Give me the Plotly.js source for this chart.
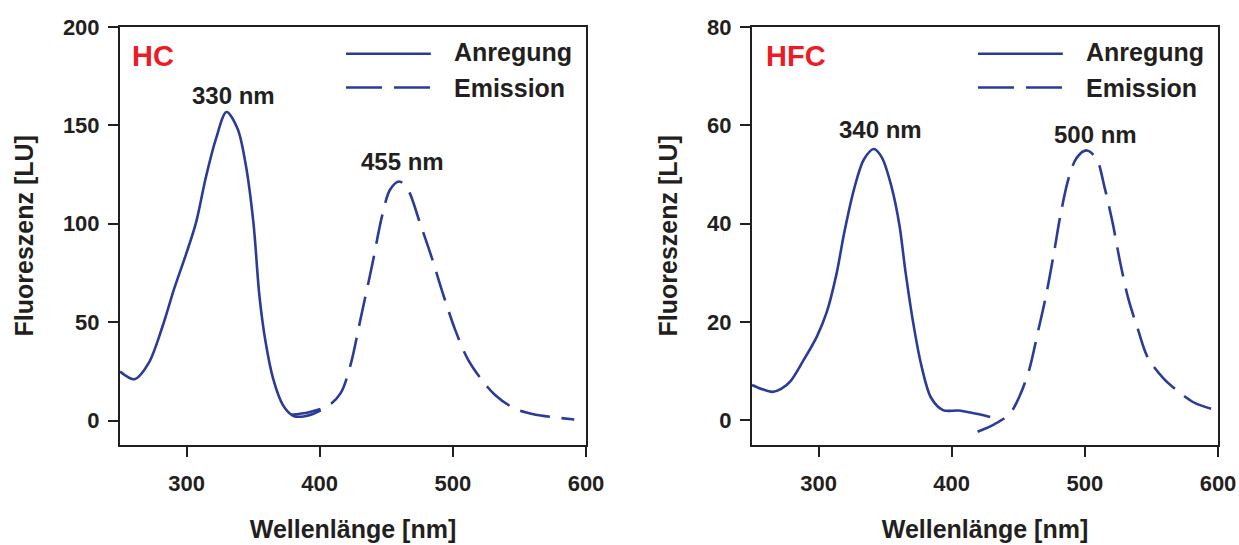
<!DOCTYPE html>
<html>
<head>
<meta charset="utf-8">
<script src="https://cdn.plot.ly/plotly-3.0.1.min.js"></script>
<style>html,body{margin:0;padding:0;background:#fff}#chart{width:1239px;height:545px}</style>
</head>
<body>
<div id="chart"></div>
<script>
// HC (left panel)
const hcExX = [250, 261, 271.4, 281.8, 290.7, 299.7, 307.1, 314.5, 322, 330, 338.3, 344.3, 350.2, 354.7, 359.2, 365.1, 372.5, 380, 385.9, 394.9, 400.8];
const hcExY = [24.9, 21.0, 29, 47.5, 67, 84.7, 100.6, 123.6, 143, 156.8, 148.3, 130.6, 100.6, 63.5, 40.5, 21.0, 7.7, 2.4, 1.9, 3.3, 5.1];
const hcEmX = [378.5, 391.9, 406.8, 415.7, 423.1, 430.5, 439.5, 446.9, 452.9, 459.7, 466.2, 475.2, 484.1, 493, 501.9, 510.9, 521.3, 531.7, 546.5, 561.4, 576.3, 591.2];
const hcEmY = [2.9, 4.2, 7.7, 13.9, 28.1, 51.1, 79.4, 104.1, 117.4, 121.5, 117.4, 100.6, 82.9, 63.5, 45.8, 31.6, 21.0, 13.0, 6.0, 3.0, 1.6, 0.5];
// HFC (right panel)
const hfcExX = [250, 257.1, 265.4, 271.9, 279.3, 288.2, 298.6, 306, 313.4, 319.3, 326.7, 334.1, 341.5, 347.5, 354.9, 360.8, 365.2, 371.1, 377.1, 384.5, 393.4, 405.2, 414.1, 428.9];
const hfcExY = [7.2, 6.4, 5.8, 6.4, 8.1, 12.0, 17.0, 21.9, 29.7, 38.2, 47.1, 53.1, 55.2, 53.5, 47.4, 39.6, 30.4, 19.8, 11.3, 4.6, 2.1, 2.0, 1.6, 0.7];
const hfcEmX = [419.4, 431.9, 443.7, 451.1, 458.5, 464.5, 470.4, 476.3, 482.2, 488.2, 494.1, 501.5, 508.9, 514.8, 520.7, 526.7, 532.6, 540, 547.4, 559.2, 571.1, 582.9, 600];
const hfcEmY = [-2.3, -0.8, 1.4, 5.0, 10.6, 17.7, 24.8, 33.3, 42.5, 49.6, 53.5, 54.9, 53.1, 47.4, 40.4, 31.9, 24.8, 18.4, 12.7, 8.5, 5.7, 3.5, 2.0];

const seriesNames = ['Anregung', 'Emission'];
const panelLabels = ['HC', 'HFC'];
const peakLabels = [
  {text: '330 nm', x: 334.9, y: 165, ax: 'x', ay: 'y'},
  {text: '455 nm', x: 461.9, y: 131.8, ax: 'x', ay: 'y'},
  {text: '340 nm', x: 346.5, y: 59.1, ax: 'x2', ay: 'y2'},
  {text: '500 nm', x: 508.3, y: 58.2, ax: 'x2', ay: 'y2'}
];

const BLUE = '#2b3c98';
const INK = '#231f20';
const RED = '#ed1c24';
const FONT = 'Liberation Sans, Arial, Helvetica, sans-serif';

function line(x, y, xa, ya, dash, name) {
  return {x: x, y: y, xaxis: xa, yaxis: ya, type: 'scatter', mode: 'lines', name: name,
    line: {color: BLUE, width: 2.6, shape: 'spline', smoothing: 0.9, dash: dash}, hoverinfo: 'skip'};
}

const data = [
  line(hcExX, hcExY, 'x', 'y', 'solid', seriesNames[0]),
  line(hcEmX, hcEmY, 'x', 'y', '30px,12px', seriesNames[1]),
  line(hfcExX, hfcExY, 'x2', 'y2', 'solid', seriesNames[0]),
  line(hfcEmX, hfcEmY, 'x2', 'y2', '30px,12px', seriesNames[1])
];

const yTop = 1 - 27 / 545, yBot = 1 - 444.5 / 545;

function xaxisDef(dom, anchor) {
  return {domain: dom, anchor: anchor, range: [250, 600], tick0: 0, dtick: 100,
    ticks: 'outside', ticklen: 10, tickwidth: 2, tickcolor: INK,
    showline: true, linewidth: 2, linecolor: INK, mirror: true,
    showgrid: false, zeroline: false, ticklabelstandoff: 8,
    tickfont: {family: FONT, size: 22, weight: 'bold', color: INK},
    title: {text: 'Wellenlänge [nm]', standoff: 26, font: {family: FONT, size: 25, weight: 'bold', color: INK}}};
}
function yaxisDef(range, dtick, anchor) {
  return {domain: [yBot, yTop], anchor: anchor, range: range, tick0: 0, dtick: dtick,
    ticks: 'outside', ticklen: 10, tickwidth: 2, tickcolor: INK,
    showline: true, linewidth: 2, linecolor: INK, mirror: true,
    showgrid: false, zeroline: false, ticklabelstandoff: 4,
    tickfont: {family: FONT, size: 22, weight: 'bold', color: INK},
    title: {text: 'Fluoreszenz [LU]', standoff: 22, font: {family: FONT, size: 25, weight: 'bold', color: INK}}};
}

const annotations = [];
const shapes = [];
[['x', 'y'], ['x2', 'y2']].forEach(function (ax, i) {
  annotations.push({xref: ax[0] + ' domain', yref: ax[1] + ' domain', x: i === 0 ? 0.022 : 0.026, y: 0.93,
    xanchor: 'left', yanchor: 'middle', text: panelLabels[i], showarrow: false,
    font: {family: FONT, size: 29, weight: 'bold', color: RED}});
  annotations.push({xref: ax[0] + ' domain', yref: ax[1] + ' domain', x: 0.712, y: 0.94,
    xanchor: 'left', yanchor: 'middle', text: seriesNames[0], showarrow: false,
    font: {family: FONT, size: 25, weight: 'bold', color: INK}});
  annotations.push({xref: ax[0] + ' domain', yref: ax[1] + ' domain', x: 0.712, y: 0.855,
    xanchor: 'left', yanchor: 'middle', text: seriesNames[1], showarrow: false,
    font: {family: FONT, size: 25, weight: 'bold', color: INK}});
  shapes.push({type: 'line', xref: ax[0] + ' domain', yref: ax[1] + ' domain', x0: 0.485, x1: 0.667, y0: 0.936, y1: 0.936,
    line: {color: BLUE, width: 2.6}});
  shapes.push({type: 'line', xref: ax[0] + ' domain', yref: ax[1] + ' domain', x0: 0.485, x1: 0.667, y0: 0.855, y1: 0.855,
    line: {color: BLUE, width: 2.6, dash: '36px,12px'}});
});
peakLabels.forEach(function (p) {
  annotations.push({xref: p.ax, yref: p.ay, x: p.x, y: p.y, text: p.text, showarrow: false,
    xanchor: 'center', yanchor: 'middle', font: {family: FONT, size: 24, weight: 'bold', color: INK}});
});

const layout = {
  width: 1239, height: 545, margin: {l: 0, r: 0, t: 0, b: 0},
  paper_bgcolor: '#ffffff', plot_bgcolor: '#ffffff', showlegend: false,
  font: {family: FONT, color: INK},
  xaxis: xaxisDef([120 / 1239, 586 / 1239], 'y'),
  yaxis: yaxisDef([-12.2, 200], 50, 'x'),
  xaxis2: xaxisDef([752 / 1239, 1218 / 1239], 'y2'),
  yaxis2: yaxisDef([-4.9, 80], 20, 'x2'),
  annotations: annotations,
  shapes: shapes
};

Plotly.newPlot('chart', data, layout, {displayModeBar: false, staticPlot: true});
</script>
</body>
</html>
